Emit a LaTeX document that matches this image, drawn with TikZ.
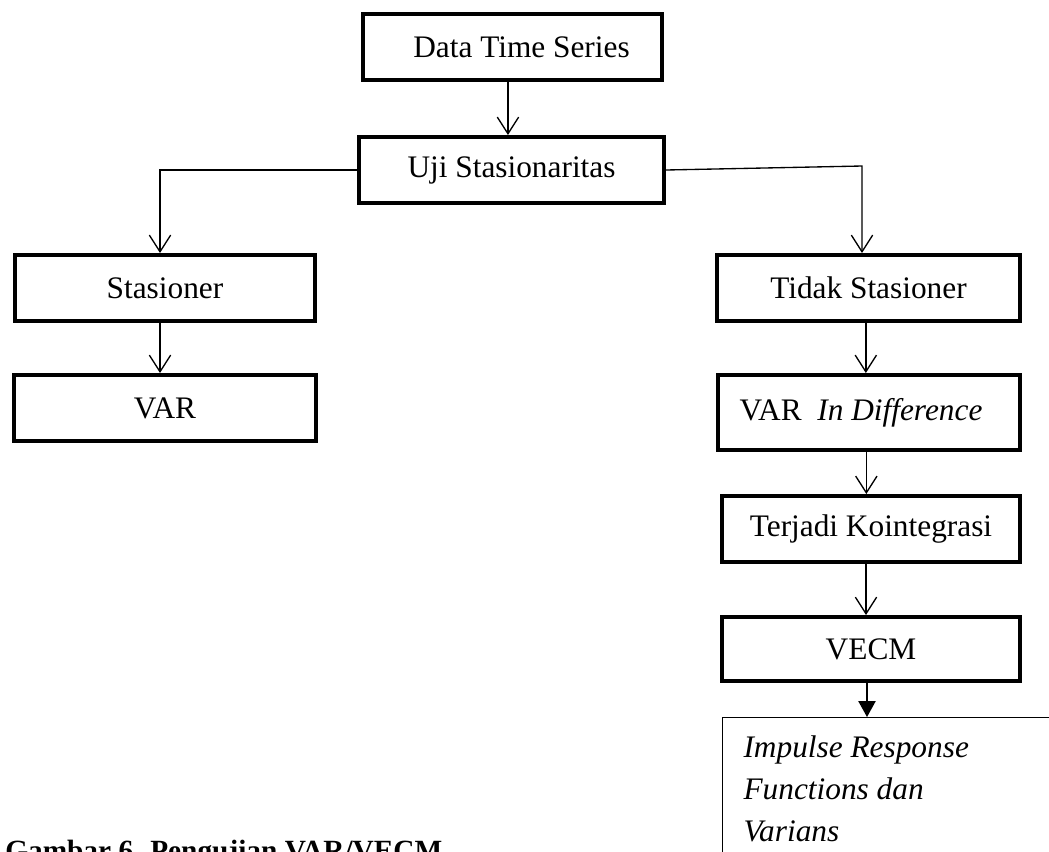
\documentclass[tikz,border=0pt]{standalone}
\usepackage{fontspec}
\setmainfont{Liberation Serif}
\usetikzlibrary{arrows.meta}
\begin{document}
\begin{tikzpicture}[x=0.75pt,y=-0.75pt,
  box/.style={draw, line width=3pt, inner sep=0pt, font=\fontsize{23.5}{28}\selectfont},
  arr/.style={line width=1pt, -{Straight Barb[length=12.5pt,width=16pt,line width=1pt]}},
  farr/.style={line width=1pt, -{Triangle[length=12pt,width=13pt]}},
  irf/.style={draw, line width=0.8pt, inner xsep=15.75pt, inner ysep=0pt, text height=30pt, text depth=140pt, anchor=north west, font=\fontsize{23.5}{31.5}\selectfont\itshape},
  capt/.style={anchor=base west, inner sep=0pt, font=\bfseries\fontsize{22}{26}\selectfont}]
\useasboundingbox (0,0) rectangle (1049,851);

\node[box, minimum width=299*0.75pt, minimum height=66*0.75pt] (dts) at (512.5,47) {\hspace*{13.5pt}Data Time Series};
\node[box, minimum width=305*0.75pt, minimum height=66*0.75pt] (uji) at (511.5,170) {Uji Stasionaritas};
\node[box, minimum width=300*0.75pt, minimum height=66*0.75pt] (stas) at (165,288) {Stasioner};
\node[box, minimum width=302*0.75pt, minimum height=66*0.75pt] (var) at (165,408) {VAR};
\node[box, minimum width=303*0.75pt, minimum height=66*0.75pt] (tidak) at (868.5,288) {Tidak Stasioner};
\node[box, minimum width=302*0.75pt, minimum height=75*0.75pt] (varid) at (869,412.5) {VAR\ \ \textit{In Difference}\hspace*{12pt}};
\node[box, minimum width=298*0.75pt, minimum height=66*0.75pt] (terjadi) at (871,529) {Terjadi Kointegrasi};
\node[box, minimum width=298*0.75pt, minimum height=64*0.75pt] (vecm) at (871,649) {VECM};
\node[irf] (irfbox) at (722,717) {\parbox[t]{300pt}{Impulse Response\\Functions dan\\Varians}};
\node[capt] (cap) at (5,860) {Gambar 6. Pengujian VAR/VECM};

\coordinate (lc) at (160,170);
\coordinate (rc) at (862,166);

\draw[arr] ([xshift=-3.4pt]dts.south) -- ([xshift=-3.4pt]dts.south |- uji.north);
\draw[arr] (uji.west) -- (lc) -- (lc |- stas.north);
\draw[arr] (uji.east) -- (rc) -- (rc |- tidak.north);
\draw[arr] (lc |- stas.south) -- (lc |- var.north);
\draw[arr] ([xshift=-2pt]tidak.south) -- ([xshift=-2pt]tidak.south |- varid.north);
\draw[arr] ([xshift=-2pt]varid.south) -- ([xshift=-2pt]varid.south |- terjadi.north);
\draw[arr] ([xshift=-3.75pt]terjadi.south) -- ([xshift=-3.75pt]terjadi.south |- vecm.north);
\draw[farr] ([xshift=-3pt]vecm.south) -- ([xshift=-3pt]vecm.south |- irfbox.north);
\end{tikzpicture}
\end{document}
